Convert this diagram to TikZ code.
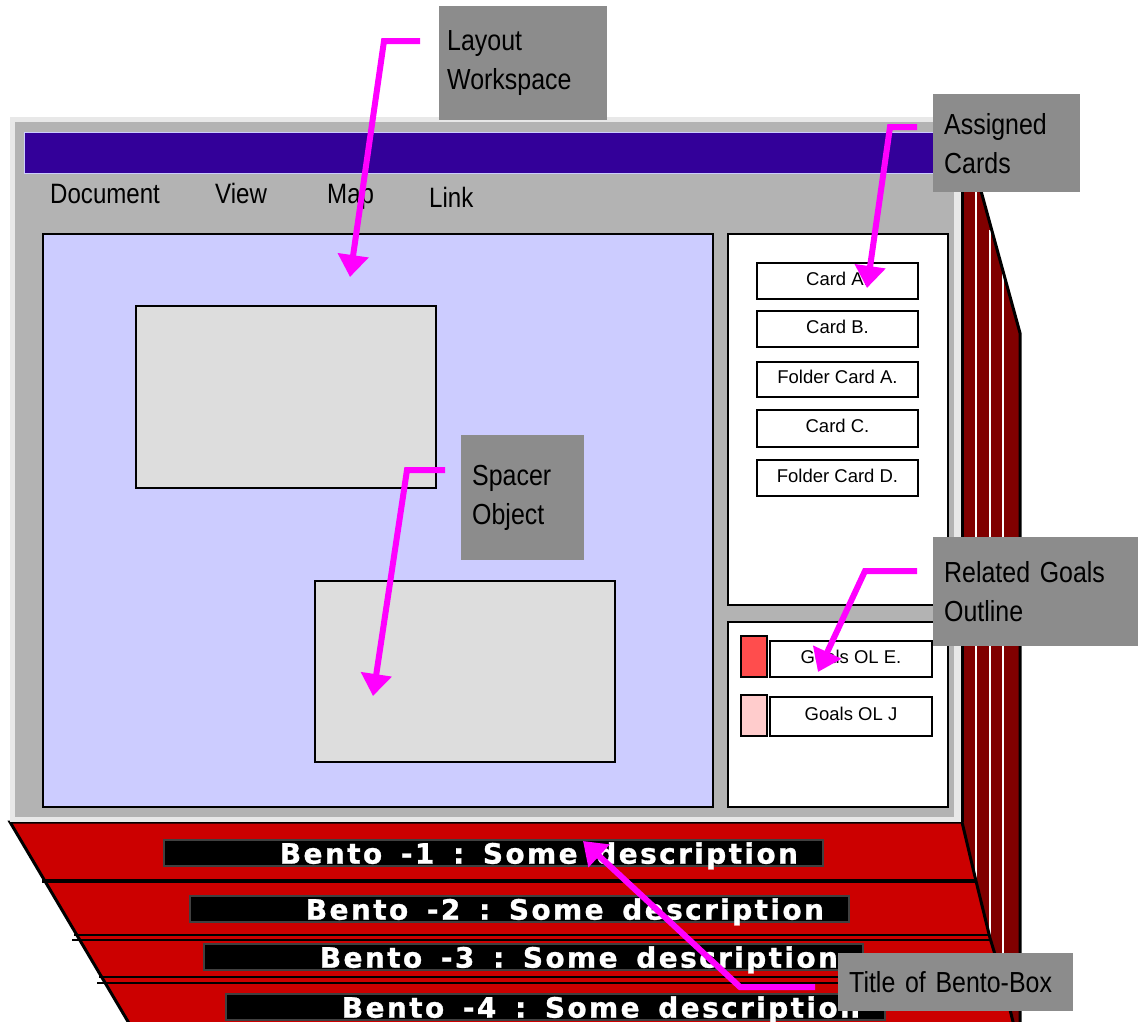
\documentclass[tikz,border=0pt]{standalone}
\usepackage{fontspec}
\setmainfont{Liberation Sans}
\newfontfamily\narrowfont[FakeStretch=0.86]{Liberation Sans}
\newfontfamily\bentofont[LetterSpace=8.5, BoldFeatures={FakeBold=1}]{DejaVu Sans}
\usetikzlibrary{arrows.meta}
\definecolor{wingray}{HTML}{B3B3B3}
\definecolor{winlight}{HTML}{E8E8E8}
\definecolor{titlepurple}{HTML}{330099}
\definecolor{lavender}{HTML}{CCCCFF}
\definecolor{boxgray}{HTML}{DDDDDD}
\definecolor{calloutgray}{HTML}{8C8C8C}
\definecolor{bentored}{HTML}{CC0000}
\definecolor{stackred}{HTML}{800000}
\definecolor{pointer}{HTML}{FF00FF}
\definecolor{goalred}{HTML}{FF4D4D}
\definecolor{goalpink}{HTML}{FFCCCC}
\definecolor{bardark}{HTML}{404040}
\tikzset{
  block/.style={anchor=north west, inner sep=0pt, outer sep=0pt},
  panel/.style={block, draw=black, line width=2.5pt},
  item/.style={block, draw=black, line width=2pt, fill=white, minimum width=161pt,
    font=\fontsize{18.5}{20}\selectfont, text depth=5pt},
  swatch/.style={block, draw=black, line width=2pt, minimum width=26pt, minimum height=41pt},
  menuitem/.style={font=\narrowfont\fontsize{28}{30}\selectfont, anchor=base west, inner sep=0pt},
  callout/.style={fill=calloutgray, anchor=north west, inner ysep=0pt, align=left,
    font=\narrowfont\fontsize{29}{39}\selectfont},
  bentobar/.style={fill=black, draw=bardark, line width=2pt, anchor=north west, inner ysep=0pt,
    inner xsep=25pt, align=right, text=white, font=\bentofont\bfseries\fontsize{28}{28}\selectfont,
    text depth=0pt, minimum height=26pt, text width=609pt},
  pointerline/.style={draw=pointer, line width=6pt, -{Triangle[width=30pt,length=22pt]}},
  edgeline/.style={draw=black, line width=3pt},
  pageedge/.style={draw=white, line width=2pt},
}
\begin{document}
\begin{tikzpicture}[x=1pt,y=-1pt]
\useasboundingbox (0,0) rectangle (1138,1021);
\clip (0,0) rectangle (1138,1021);

% ---- stacked bento boxes: side of the stack
\fill[stackred] (962,180) -- (978,180) -- (1020,333) -- (1020,1030) -- (962,1030) -- cycle;
\draw[pageedge] (976,180) -- (976,881);
\draw[pageedge] (990,230) -- (990,938);
\draw[pageedge] (1003,273) -- (1003,981);
\draw[edgeline] (978,180) -- (1020,333) -- (1020,1030);
\draw[edgeline] (962,180) -- (962,822);

% ---- stacked bento boxes: fronts
\fill[bentored] (10,822) -- (962,822) -- (976,881) -- (990,938) -- (1003,981) -- (1015,1030) -- (133,1030) -- cycle;
\draw[black, line width=4pt] (42,881) -- (976,881);
\draw[black, line width=2pt] (74,935) -- (989,935);
\draw[black, line width=2pt] (72,940) -- (990,940);
\draw[black, line width=2pt] (99,977) -- (1002,977);
\draw[black, line width=2pt] (97,983) -- (1003,983);
\draw[edgeline] (133,1030) -- (10,822) -- (962,822) -- (976,881) -- (990,938) -- (1003,981) -- (1015,1030);

% ---- window
\node[block, fill=winlight, minimum width=951pt, minimum height=705pt] (win) at (10,117) {};
\node[block, fill=wingray, minimum width=939pt, minimum height=695pt] (wininner) at (15,122) {};
\node[block, fill=titlepurple, draw=lavender, line width=1pt, minimum width=926pt, minimum height=41pt] (titlebar) at (24,132) {};
\node[menuitem] (mDoc) at (50,203) {Document};
\node[menuitem] (mView) at (215,203) {View};
\node[menuitem] (mMap) at (327,203) {Map};
\node[menuitem] (mLink) at (429,207) {Link};

% layout workspace
\node[panel, fill=lavender, minimum width=670pt, minimum height=573pt] (ws) at (43,234) {};
\node[panel, line width=2pt, fill=boxgray, minimum width=300pt, minimum height=182pt] (obj1) at (136,306) {};
\node[panel, line width=2pt, fill=boxgray, minimum width=300pt, minimum height=181pt] (obj2) at (315,581) {};

% assigned cards
\node[panel, fill=white, minimum width=220pt, minimum height=371pt] (cards) at (728,234) {};
\node[item, minimum height=36pt] (cA) at (757,263) {Card A.};
\node[item, minimum height=36pt] (cB) at (757,311) {Card B.};
\node[item, minimum height=35pt] (fA) at (757,362) {Folder Card A.};
\node[item, minimum height=37pt] (cC) at (757,410) {Card C.};
\node[item, minimum height=36pt] (fD) at (757,460) {Folder Card D.};

% related goals
\node[panel, fill=white, minimum width=220pt, minimum height=185pt] (goals) at (728,622) {};
\node[swatch, fill=goalred] (swE) at (741,636) {};
\node[item, minimum width=162pt, minimum height=36pt] (gE) at (770,641) {Goals OL E.};
\node[swatch, fill=goalpink] (swJ) at (741,695) {};
\node[item, minimum width=162pt, minimum height=39pt] (gJ) at (770,697) {Goals OL J};

% bento titles
\node[bentobar] (b1) at (163,839) {Bento\ \ -1\ \ :\ \ Some\ \ description};
\node[bentobar] (b2) at (189,895) {Bento\ \ -2\ \ :\ \ Some\ \ description};
\node[bentobar] (b3) at (203,943) {Bento\ \ -3\ \ :\ \ Some\ \ description};
\node[bentobar] (b4) at (225,993) {Bento\ \ -4\ \ :\ \ Some\ \ description};

% callouts
\node[callout, inner xsep=8pt, text width=152pt, minimum height=114pt] (cLayout) at (439,6) {Layout\\Workspace};
\node[callout, inner xsep=11pt, text width=125pt, minimum height=98pt] (cAssigned) at (933,94) {Assigned\\Cards};
\node[callout, inner xsep=11pt, text width=101pt, minimum height=125pt] (cSpacer) at (461,435) {Spacer\\Object};
\node[callout, inner xsep=11pt, text width=183pt, minimum height=109pt] (cGoals) at (933,537) {Related Goals\\Outline};
\node[callout, inner xsep=11pt, text width=213pt, minimum height=58pt] (cTitle) at (838,953) {Title of Bento-Box};

% pointers
\coordinate (pLs) at (420,41);  \coordinate (pLb) at (384,41);  \coordinate (pLt) at (350,277);
\coordinate (pAs) at (917,127); \coordinate (pAb) at (890,127); \coordinate (pAt) at (867,288);
\coordinate (pSs) at (445,470); \coordinate (pSb) at (407,470); \coordinate (pSt) at (373,696);
\coordinate (pGs) at (917,571); \coordinate (pGb) at (865,571); \coordinate (pGt) at (818,672);
\coordinate (pTs) at (815,987); \coordinate (pTb) at (740,987); \coordinate (pTt) at (583,841);
\draw[pointerline] (pLs) -- (pLb) -- (pLt);
\draw[pointerline] (pAs) -- (pAb) -- (pAt);
\draw[pointerline] (pSs) -- (pSb) -- (pSt);
\draw[pointerline] (pGs) -- (pGb) -- (pGt);
\draw[pointerline] (pTs) -- (pTb) -- (pTt);
\end{tikzpicture}
\end{document}
